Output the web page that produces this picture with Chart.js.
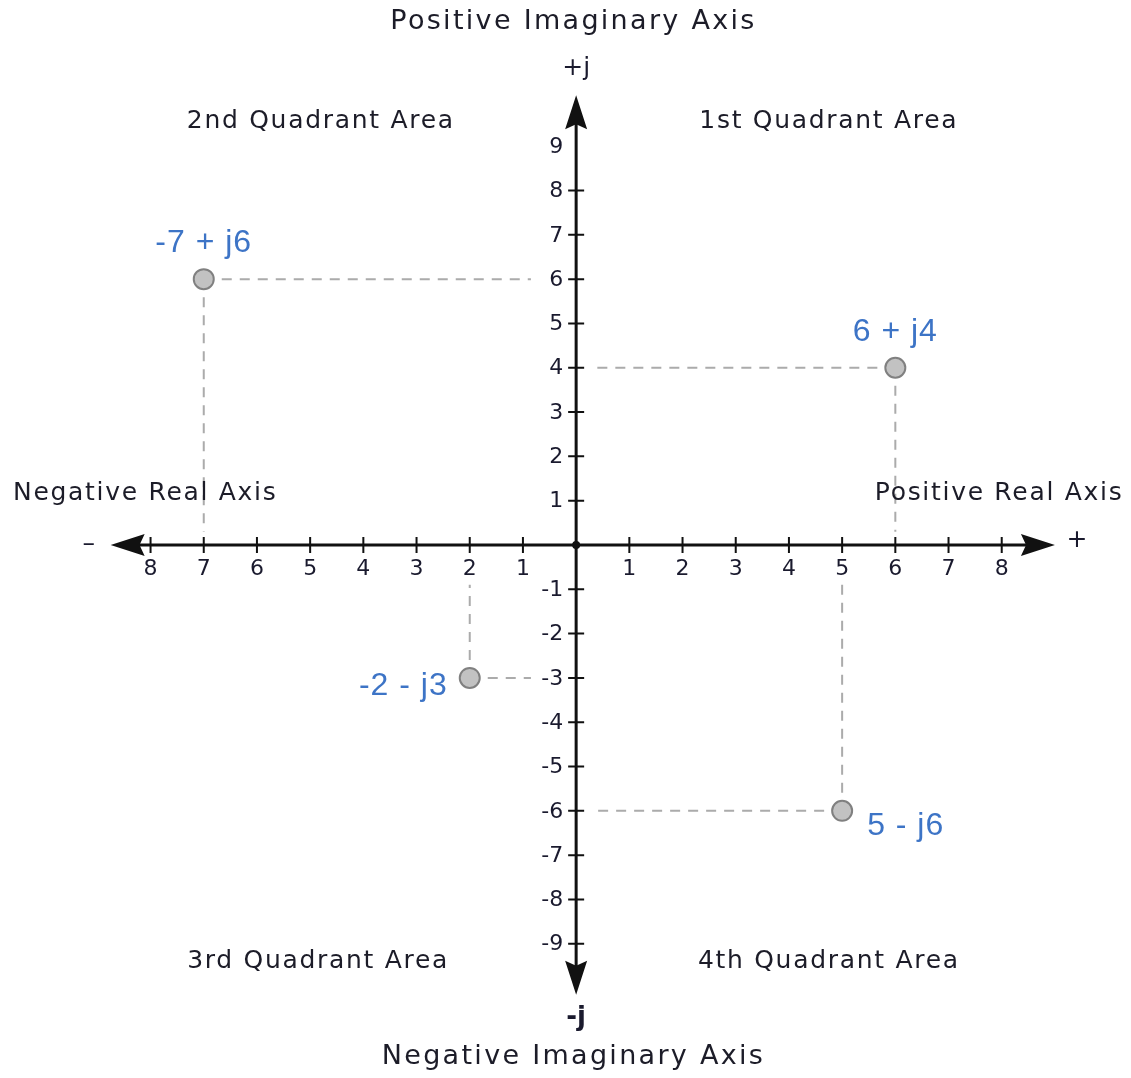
<!DOCTYPE html>
<html>
<head>
<meta charset="utf-8">
<script src="https://cdn.jsdelivr.net/npm/chart.js@4.4.0/dist/chart.umd.min.js"></script>
<style>
  html, body { margin: 0; padding: 0; background: #fff; }
  #wrap { width: 1131px; height: 1078px; position: relative; }
</style>
</head>
<body>
<div id="wrap"><canvas id="plano"></canvas></div>
<script>
// ------------------ DADOS ------------------
const pointLabels = ["-7 + j6", "6 + j4", "-2 - j3", "5 - j6"];
const realParts = [-7, 6, -2, 5];
const imagParts = [6, 4, -3, -6];

const xTicks = [-8, -7, -6, -5, -4, -3, -2, -1, 1, 2, 3, 4, 5, 6, 7, 8];
const yTicks = [9, 8, 7, 6, 5, 4, 3, 2, 1, -1, -2, -3, -4, -5, -6, -7, -8, -9];

// textos das áreas / eixos (posição em coordenadas do gráfico)
const notes = [
    { text: "Positive Imaginary Axis", x: -0.05, y: 11.8, wide: true },
    { text: "Negative Imaginary Axis", x: -0.05, y: -11.55, wide: true },
    { text: "2nd Quadrant Area", x: -4.8, y: 9.55 },
    { text: "1st Quadrant Area", x: 4.75, y: 9.55 },
    { text: "3rd Quadrant Area", x: -4.85, y: -9.4 },
    { text: "4th Quadrant Area", x: 4.75, y: -9.4 },
    { text: "Negative Real Axis", x: -8.1, y: 1.17 },
    { text: "Positive Real Axis", x: 7.95, y: 1.17 }
];

const textFont = "25px 'DejaVu Sans'";
const wideFont = "27px 'DejaVu Sans'";
const tickFont = "22px 'DejaVu Sans'";
const blue = "#3d74c6";

// linhas tracejadas: até o eixo (para do lado esquerdo antes dos rótulos)
const guideSets = [];
realParts.forEach((re, i) => {
    const im = imagParts[i];
    const xEnd = re < 0 ? -0.85 : 0.35;
    const yEnd = im < 0 ? -0.9 : 0.3;
    [[{ x: re, y: im }, { x: xEnd, y: im }], [{ x: re, y: im }, { x: re, y: yEnd }]].forEach(seg => {
        guideSets.push({
            type: "line",
            data: seg,
            borderColor: "#ababab",
            borderWidth: 2,
            borderDash: [10, 8],
            pointRadius: 0,
            fill: false
        });
    });
});

// ------------------ EIXOS E TEXTOS ------------------
function arrow(ctx, x, y, dx, dy) {
    const len = 34, half = 11;
    const px = -dy, py = dx;
    ctx.beginPath();
    ctx.moveTo(x, y);
    ctx.lineTo(x - dx * len + px * half, y - dy * len + py * half);
    ctx.lineTo(x - dx * len * 0.85, y - dy * len * 0.85);
    ctx.lineTo(x - dx * len - px * half, y - dy * len - py * half);
    ctx.closePath();
    ctx.fill();
}

const eixos = {
    id: "eixos",
    beforeDatasetsDraw(chart) {
        const ctx = chart.ctx;
        const sx = chart.scales.x, sy = chart.scales.y;
        const x0 = sx.getPixelForValue(0), y0 = sy.getPixelForValue(0);
        ctx.save();
        ctx.strokeStyle = "#111";
        ctx.fillStyle = "#111";
        ctx.lineWidth = 3;

        const xl = sx.getPixelForValue(-8.75), xr = sx.getPixelForValue(9.0);
        const yt = sy.getPixelForValue(10.15), yb = sy.getPixelForValue(-10.15);
        ctx.beginPath();
        ctx.moveTo(xl + 20, y0); ctx.lineTo(xr - 20, y0);
        ctx.moveTo(x0, yt + 20); ctx.lineTo(x0, yb - 20);
        ctx.stroke();
        arrow(ctx, xl, y0, -1, 0);
        arrow(ctx, xr, y0, 1, 0);
        arrow(ctx, x0, yt, 0, -1);
        arrow(ctx, x0, yb, 0, 1);

        ctx.beginPath();
        ctx.arc(x0, y0, 4, 0, Math.PI * 2);
        ctx.fill();

        // marcas
        ctx.lineWidth = 2;
        ctx.beginPath();
        xTicks.forEach(v => {
            const p = sx.getPixelForValue(v);
            ctx.moveTo(p, y0 - 8); ctx.lineTo(p, y0 + 8);
        });
        yTicks.forEach(v => {
            if (v === 9) return;
            const p = sy.getPixelForValue(v);
            ctx.moveTo(x0 - 8, p); ctx.lineTo(x0 + 8, p);
        });
        ctx.stroke();

        // rótulos das marcas
        ctx.font = tickFont;
        ctx.fillStyle = "#1a1a2e";
        ctx.textAlign = "center";
        ctx.textBaseline = "middle";
        xTicks.forEach(v => {
            ctx.fillText(String(Math.abs(v)), sx.getPixelForValue(v), y0 + 24);
        });
        ctx.textAlign = "right";
        yTicks.forEach(v => {
            ctx.fillText(String(v), x0 - 13, sy.getPixelForValue(v) + 1);
        });

        // sinais das pontas
        ctx.font = "25px 'DejaVu Sans'";
        ctx.textAlign = "center";
        ctx.fillText("\u2013", xl - 22, y0);
        ctx.fillText("+", xr + 22, y0 - 4);
        ctx.fillText("+j", x0, yt - 27);
        ctx.font = "bold 26px 'DejaVu Sans'";
        ctx.fillText("-j", x0, yb + 24);
        ctx.restore();
    },
    afterDraw(chart) {
        const ctx = chart.ctx;
        const sx = chart.scales.x, sy = chart.scales.y;
        ctx.save();
        ctx.fillStyle = "#1c1c28";
        ctx.textAlign = "center";
        ctx.textBaseline = "middle";
        notes.forEach(n => {
            ctx.font = n.wide ? wideFont : textFont;
            ctx.letterSpacing = n.wide ? "2.3px" : "1.7px";
            ctx.fillText(n.text, sx.getPixelForValue(n.x), sy.getPixelForValue(n.y));
        });
        ctx.letterSpacing = "1px";

        // rótulos dos pontos
        ctx.font = "32px 'Liberation Sans'";
        ctx.fillStyle = blue;
        const meta = chart.getDatasetMeta(0);
        meta.data.forEach((pt, i) => {
            const re = realParts[i], im = imagParts[i];
            if (im > 0) {
                ctx.textAlign = "center";
                ctx.fillText(pointLabels[i], pt.x, pt.y - 36);
            } else if (re < 0) {
                ctx.textAlign = "right";
                ctx.fillText(pointLabels[i], pt.x - 22, pt.y + 8);
            } else {
                ctx.textAlign = "left";
                ctx.fillText(pointLabels[i], pt.x + 25, pt.y + 15);
            }
        });
        ctx.restore();
    }
};

document.addEventListener("DOMContentLoaded", () => {
    const ctx = document.getElementById("plano").getContext("2d");
    new Chart(ctx, {
        type: "scatter",
        data: {
            datasets: [{
                label: "pontos",
                data: realParts.map((re, i) => ({ x: re, y: imagParts[i] })),
                backgroundColor: "#c2c2c2",
                borderColor: "#808080",
                borderWidth: 2,
                pointRadius: 10,
                order: 0
            }, ...guideSets.map(g => ({ ...g, order: 1 }))]
        },
        options: {
            responsive: true,
            maintainAspectRatio: false,
            animation: false,
            layout: { padding: 0, autoPadding: false },
            plugins: {
                legend: { display: false },
                tooltip: { enabled: false }
            },
            scales: {
                x: { type: "linear", min: -10.83, max: 10.43, display: false },
                y: { type: "linear", min: -12.03, max: 12.30, display: false }
            }
        },
        plugins: [eixos]
    });
});
</script>
</body>
</html>
